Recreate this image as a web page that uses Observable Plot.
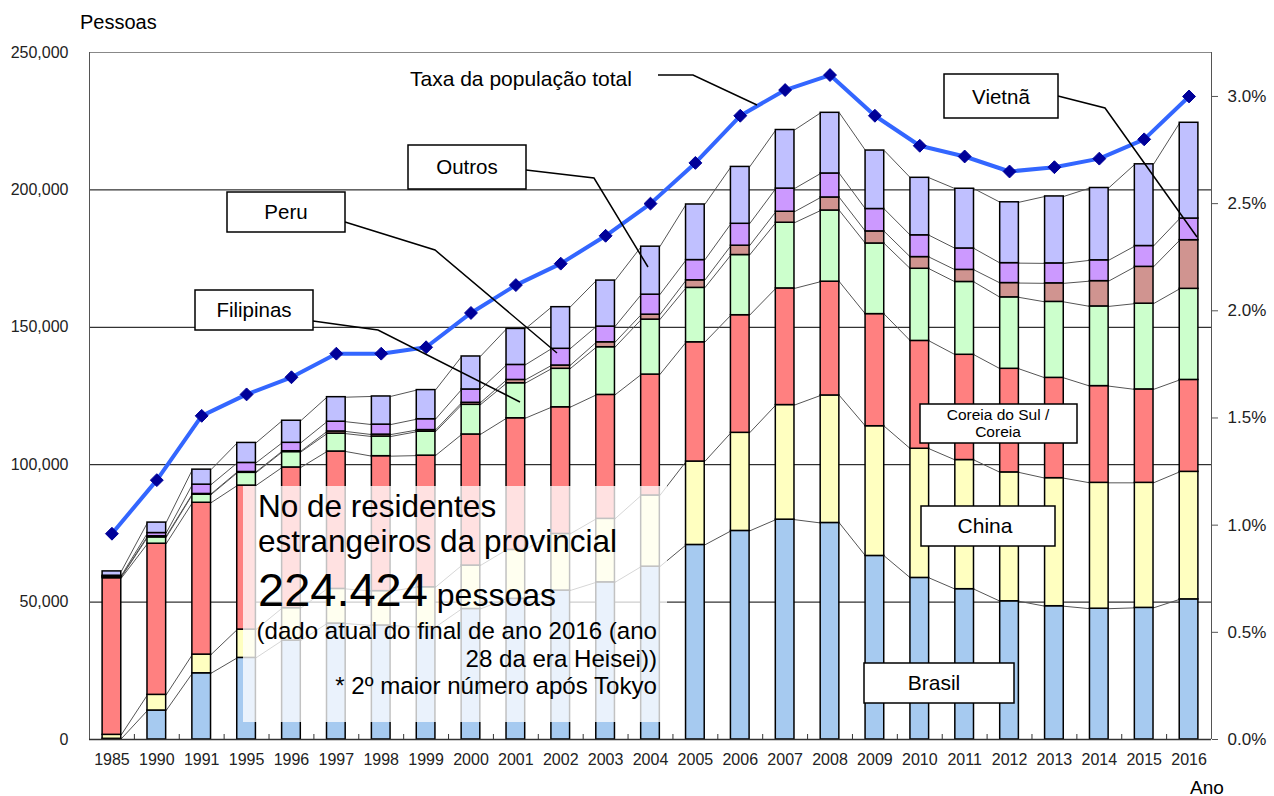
<!DOCTYPE html>
<html>
<head>
<meta charset="utf-8">
<script src="https://cdn.jsdelivr.net/npm/d3@7"></script>
<script src="https://cdn.jsdelivr.net/npm/@observablehq/plot@0.6"></script>
<style>
  html, body { margin: 0; padding: 0; background: #fff; }
  #chart { width: 1274px; height: 796px; }
</style>
</head>
<body>
<div id="chart"></div>
<script>
// ---------- data ----------
const years = ["1985","1990","1991","1995","1996","1997","1998","1999","2000","2001","2002","2003","2004","2005","2006","2007","2008","2009","2010","2011","2012","2013","2014","2015","2016"];
const series = ["Brasil","China","Coreia do Sul / Coreia","Filipinas","Vietnã","Peru","Outros"];
const colors = ["#A6CAF0","#FFFFC0","#FF8080","#CCFFCC","#D09490","#CC99FF","#C0C0FF"];

const brasil      = [250,10550,24100,29700,36000,42200,41500,40900,47500,51200,54200,57200,62900,70800,75900,80000,78800,66800,58800,54700,50300,48500,47600,47900,51000];
const china       = [1450,5700,6800,10300,11800,12600,12500,14500,15800,17800,20600,23100,25900,30350,35700,41700,46400,47200,47000,47000,46900,46600,45800,45500,46400];
const coreia      = [57000,55000,55250,52400,51200,50000,49100,47900,47700,47900,46100,45100,44000,43400,42800,42450,41400,40800,39250,38300,37700,36500,35200,34000,33450];
const filipinas   = [400,2300,2950,4650,5600,6500,7150,8700,10800,12750,14000,17350,20000,19800,21900,23900,25900,25700,26250,26500,26000,27650,29000,31200,33150];
const vietna      = [200,400,250,300,300,800,700,600,730,1200,1200,1800,1800,2750,3400,4000,4750,4400,4250,4400,5200,6750,9200,13400,17700];
const peru        = [300,1180,3400,3300,3070,3550,3640,3950,4850,5460,6080,5710,7280,7360,7970,8430,8730,8150,7930,7790,7250,7260,7580,7580,7880];
const outros      = [1570,3800,5450,7270,8030,8920,10240,10600,12000,13100,15140,16740,17460,20230,20690,21310,22070,21270,20920,21730,22140,24360,26310,29730,34844];

// rate of total population (%)
const taxa = [0.96,1.21,1.51,1.61,1.69,1.80,1.80,1.83,1.99,2.12,2.22,2.35,2.50,2.69,2.91,3.03,3.10,2.91,2.77,2.72,2.65,2.67,2.71,2.80,3.00];

const yTicks = [0,50000,100000,150000,200000,250000];
const gridTicks = [50000,100000,150000,200000];
const pctTicks = [0,0.5,1.0,1.5,2.0,2.5,3.0];

// ---------- derived tables ----------
const FONT = '"Liberation Sans", Arial, Helvetica, sans-serif';
const PCT = 78000;          // people-axis units per 1 % on the right axis
const N = years.length;
const HW = 0.208;           // half bar width in category units
const seriesValues = [brasil, china, coreia, filipinas, vietna, peru, outros];

const rows = [];
const tops = [];
const cum = years.map(() => 0);
seriesValues.forEach((vals, s) => {
  const t = [];
  vals.forEach((v, i) => {
    rows.push({i, series: series[s], y1: cum[i], y2: cum[i] + v});
    cum[i] += v;
    t.push(cum[i]);
  });
  tops.push(t);
});
const links = [];
tops.forEach(t => {
  for (let i = 0; i < N - 1; i++) links.push({x1: i + HW, y1: t[i], x2: i + 1 - HW, y2: t[i + 1]});
});
const rateRows = taxa.map((v, i) => ({i, v: v * PCT}));
const bounds = d3.range(N - 1).map(i => i + 0.5);

// ---------- plot ----------
const chart = Plot.plot({
  width: 1274,
  height: 796,
  marginLeft: 89,
  marginRight: 63,
  marginTop: 52,
  marginBottom: 57,
  style: {fontFamily: FONT, fontSize: "16px", background: "#fff", overflow: "visible", color: "#222"},
  x: {type: "linear", domain: [-0.5, N - 0.5], axis: null},
  y: {domain: [0, 250000], axis: null},
  color: {domain: series, range: colors},
  marks: [
    Plot.ruleY(gridTicks, {stroke: "#000", strokeWidth: 1}),
    Plot.ruleY([250000], {stroke: "#888", strokeWidth: 1}),
    Plot.link(links, {x1: "x1", y1: "y1", x2: "x2", y2: "y2", stroke: "#555", strokeWidth: 1}),
    Plot.rect(rows, {x1: d => d.i - HW, x2: d => d.i + HW, y1: "y1", y2: "y2", fill: "series", stroke: "#000", strokeWidth: 1.5}),
    Plot.ruleX(bounds, {y1: 0, y2: 0, insetTop: -5, stroke: "#333", strokeWidth: 1}),
    Plot.ruleX([-0.5], {stroke: "#555", strokeWidth: 1}),
    Plot.ruleX([N - 0.5], {stroke: "#555", strokeWidth: 1}),
    Plot.ruleY([0], {stroke: "#333", strokeWidth: 1.5}),
    Plot.line(rateRows, {x: "i", y: "v", stroke: "#3366FF", strokeWidth: 4}),
    Plot.dot(rateRows, {x: "i", y: "v", symbol: "diamond2", r: 5.8, fill: "#000099", stroke: "#000099", strokeWidth: 1}),
    Plot.axisY(yTicks, {anchor: "left", tickSize: 0, tickPadding: 21, tickFormat: d3.format(","), fontSize: 16, fill: "#222", label: null}),
    Plot.axisY(pctTicks.map(p => p * PCT), {anchor: "right", tickSize: 6, tickPadding: 10, tickFormat: v => (v / PCT).toFixed(1) + "%", fontSize: 17, fill: "#222", stroke: "#555", label: null}),
    Plot.axisX(d3.range(N), {anchor: "bottom", tickSize: 0, tickPadding: 14, tickFormat: i => years[i], fontSize: 16, fill: "#222", label: null})
  ]
});
document.getElementById("chart").appendChild(chart);

// ---------- annotations ----------
const svg = d3.select(chart);
const g = svg.append("g").attr("font-family", FONT).attr("fill", "#000").attr("text-anchor", "start");

// axis titles
g.append("text").attr("x", 80).attr("y", 29).attr("font-size", 20).text("Pessoas");
g.append("text").attr("x", 1190).attr("y", 794).attr("font-size", 19).text("Ano");

// leader lines
const leaders = [
  [[658,75],[693,75],[757,105]],
  [[526,170],[594,178],[648,267]],
  [[345,222],[435,250],[557,353]],
  [[313,321],[378,330],[520,402]],
  [[1058,96],[1105,108],[1197,237]]
];
leaders.forEach(p => g.append("path").attr("d", d3.line()(p)).attr("fill", "none").attr("stroke", "#000").attr("stroke-width", 1.5));

g.append("text").attr("x", 410).attr("y", 86).attr("font-size", 21).text("Taxa da população total");

// callout boxes
const boxes = [
  {x: 408, y: 145, w: 118, h: 44, lines: ["Outros"], fs: 20.5, cx: 467, cy: [174]},
  {x: 227, y: 192, w: 118, h: 40, lines: ["Peru"], fs: 20.5, cx: 286, cy: [219]},
  {x: 195, y: 290, w: 118, h: 40, lines: ["Filipinas"], fs: 20.5, cx: 254, cy: [317]},
  {x: 944, y: 74, w: 114, h: 44, lines: ["Vietnã"], fs: 20.5, cx: 1001, cy: [104]},
  {x: 920, y: 404, w: 157, h: 39, lines: ["Coreia do Sul /", "Coreia"], fs: 15.5, cx: 998, cy: [420, 437]},
  {x: 921, y: 506, w: 134, h: 40, lines: ["China"], fs: 21, cx: 985, cy: [533]},
  {x: 864, y: 663, w: 150, h: 40, lines: ["Brasil"], fs: 21, cx: 934, cy: [690]}
];
boxes.forEach(b => {
  g.append("rect").attr("x", b.x).attr("y", b.y).attr("width", b.w).attr("height", b.h)
    .attr("fill", "#fff").attr("stroke", "#000").attr("stroke-width", 1.5);
  b.lines.forEach((t, k) => g.append("text").attr("x", b.cx).attr("y", b.cy[k]).attr("text-anchor", "middle")
    .attr("font-size", b.fs).text(t));
});

// translucent info box
g.append("rect").attr("x", 243).attr("y", 486).attr("width", 424).attr("height", 236)
  .attr("fill", "#fff").attr("fill-opacity", 0.76);
g.append("text").attr("x", 258).attr("y", 517).attr("font-size", 31.5).text("No de residentes");
g.append("text").attr("x", 258).attr("y", 552).attr("font-size", 31.5).text("estrangeiros da provincial");
const big = g.append("text").attr("x", 258).attr("y", 606);
big.append("tspan").attr("font-size", 47).text("224.424");
big.append("tspan").attr("font-size", 32).text(" pessoas");
g.append("text").attr("x", 657).attr("y", 639).attr("font-size", 24.1).attr("text-anchor", "end").text("(dado atual do final de ano 2016 (ano");
g.append("text").attr("x", 657).attr("y", 667).attr("font-size", 24.1).attr("text-anchor", "end").text("28 da era Heisei))");
g.append("text").attr("x", 657).attr("y", 694).attr("font-size", 24.1).attr("text-anchor", "end").text("* 2º maior número após Tokyo");
</script>
</body>
</html>
